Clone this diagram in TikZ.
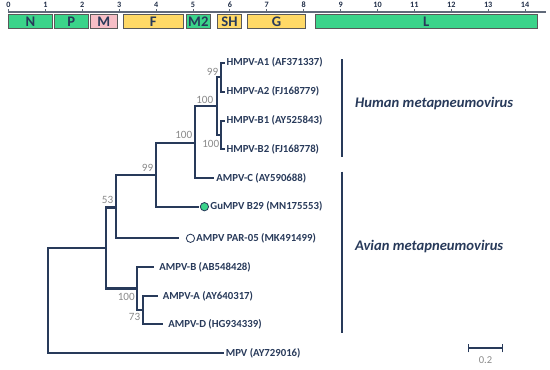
\documentclass[tikz,border=0pt]{standalone}
\usepackage{fontspec}
\setmainfont{Carlito}
\usepackage{xcolor}
\usetikzlibrary{positioning}
\definecolor{navy}{HTML}{283A5A}
\definecolor{bootgray}{HTML}{8A8A8A}
\definecolor{genegreen}{HTML}{3BD48A}
\definecolor{genepink}{HTML}{F6BEC6}
\definecolor{geneyellow}{HTML}{FFD966}

\begin{document}
\begin{tikzpicture}[x=0.03cm, y=-0.03cm,
      branch/.style={draw=navy, line width=1.8pt, line cap=rect},
      leaf/.style={font=\bfseries\fontsize{9.2}{10}\selectfont, text=navy, inner sep=0pt, anchor=west},
      boot/.style={font=\fontsize{9.5}{10}\selectfont, text=bootgray, inner sep=0pt},
      gene/.style={draw=black!65, line width=0.7pt, font=\bfseries\fontsize{12.5}{13}\selectfont, text=navy},
      clade/.style={font=\bfseries\itshape\fontsize{12.5}{14}\selectfont, text=navy, anchor=west, inner sep=0pt},
      dot/.style={circle, draw=navy, line width=0.7pt, minimum size=8.3*0.03cm, inner sep=0pt}]
    \useasboundingbox (0,0) rectangle (550,370);
    % genome map
    \draw[navy!70!black!70, line width=1.3pt] (8,12) -- (546,12);
    \foreach \k in {0,...,14} {
      \draw[navy!70!black!70, line width=0.7pt] (8.5+36.9*\k,12) -- (8.5+36.9*\k,9.5);
      \node[font=\bfseries\fontsize{7}{7}\selectfont, text=navy!80!black, inner sep=0pt] at (8.5+36.9*\k,4.8) {\k};
    }
    \foreach \a/\b/\g/\c in {8.7/52.3/N/genegreen, 54/88.3/P/genegreen, 90/117.3/M/genepink,
        123.3/183.3/F/geneyellow, 186/210.7/M2/genegreen, 217.3/241.7/SH/geneyellow,
        247.3/305.7/G/geneyellow, 315/537.3/L/genegreen} {
      \draw[gene, fill=\c] (\a,14) rectangle (\b,28);
      \node[gene, draw=none, inner sep=0pt] at ({(\a+\b)/2},21.3) {\g};
    }
    % internal nodes
    \coordinate (root) at (48.3,300.6);
    \coordinate (nAv)  at (105.7,248);
    \coordinate (n53)  at (115.7,207.5);
    \coordinate (nG)   at (156,175);
    \coordinate (nHC)  at (195,142.7);
    \coordinate (nH)   at (216.7,106);
    \coordinate (nA)   at (220.7,77);
    \coordinate (nB)   at (220.7,134.8);
    \coordinate (nBAD) at (137.3,288.5);
    \coordinate (nAD)  at (142.7,310.2);
    % leaf tips
    \coordinate (tA1)  at (224,62.7);
    \coordinate (tA2)  at (224,91.7);
    \coordinate (tB1)  at (224,120.7);
    \coordinate (tB2)  at (224,149);
    \coordinate (tC)   at (213.3,178.3);
    \coordinate (tGu)  at (198,206.7);
    \coordinate (tPar) at (178.3,238.3);
    \coordinate (tAB)  at (153.3,267.3);
    \coordinate (tAA)  at (156.7,296);
    \coordinate (tAD)  at (162.3,324.3);
    \coordinate (tMPV) at (222.7,353.3);
    % branches
    \draw[branch] (root) |- (nAv);  \draw[branch] (root) |- (tMPV);
    \draw[branch] (nAv) |- (n53);   \draw[branch] (nAv) |- (nBAD);
    \draw[branch] (n53) |- (nG);    \draw[branch] (n53) |- (tPar);
    \draw[branch] (nG) |- (nHC);    \draw[branch] (nG) |- (tGu);
    \draw[branch] (nHC) |- (nH);    \draw[branch] (nHC) |- (tC);
    \draw[branch] (nH) |- (nA);     \draw[branch] (nH) |- (nB);
    \draw[branch] (nA) |- (tA1);    \draw[branch] (nA) |- (tA2);
    \draw[branch] (nB) |- (tB1);    \draw[branch] (nB) |- (tB2);
    \draw[branch] (nBAD) |- (tAB);  \draw[branch] (nBAD) |- (nAD);
    \draw[branch] (nAD) |- (tAA);   \draw[branch] (nAD) |- (tAD);
    % leaf labels
    \node[leaf, right=2pt of tA1] (lA1) {HMPV-A1 (AF371337)};
    \node[leaf, right=2pt of tA2] (lA2) {HMPV-A2 (FJ168779)};
    \node[leaf, right=2pt of tB1] (lB1) {HMPV-B1 (AY525843)};
    \node[leaf, right=2pt of tB2] (lB2) {HMPV-B2 (FJ168778)};
    \node[leaf, right=2.5pt of tC] (lC) {AMPV-C (AY590688)};
    \node[dot, fill=genegreen, right=1.6pt of tGu] (dGu) {};
    \node[leaf, right=1pt of dGu] (lGu) {GuMPV B29 (MN175553)};
    \node[dot, fill=white, right=6.5pt of tPar] (dPar) {};
    \node[leaf, right=1pt of dPar] (lPar) {AMPV PAR-05 (MK491499)};
    \node[leaf, right=5pt of tAB] (lAB) {AMPV-B (AB548428)};
    \node[leaf, right=5pt of tAA] (lAA) {AMPV-A (AY640317)};
    \node[leaf, right=5pt of tAD] (lAD) {AMPV-D (HG934339)};
    \node[leaf, right=2.5pt of tMPV] (lMPV) {MPV (AY729016)};
    % bootstrap values
    \node[boot, anchor=east] at (218.5,72) {99};
    \node[boot, anchor=east] at (213.5,100) {100};
    \node[boot, anchor=east] at (219.5,144) {100};
    \node[boot, anchor=east] at (192.5,135) {100};
    \node[boot, anchor=east] at (153.5,168) {99};
    \node[boot, anchor=east] at (113.5,200) {53};
    \node[boot, anchor=east] at (135,297.3) {100};
    \node[boot, anchor=east] at (140.5,317.3) {73};
    % clades
    \coordinate (hTop) at (342.3,59.3);  \coordinate (hBot) at (342.3,156.7);
    \coordinate (aTop) at (342.3,171.7); \coordinate (aBot) at (342.3,332.7);
    \draw[branch, line cap=butt] (hTop) -- (hBot);
    \draw[branch, line cap=butt] (aTop) -- (aBot);
    \node[clade] (human) at (355,103.3) {Human metapneumovirus};
    \node[clade] (avian) at (355,246.7) {Avian metapneumovirus};
    % scale bar
    \coordinate (sL) at (468.3,348.3); \coordinate (sR) at (502.7,348.3);
    \draw[branch, line cap=butt] (sL) -- (sR);
    \draw[draw=navy, line width=1.3pt] ([yshift=-4.2*0.03cm]sL) -- ([yshift=4.2*0.03cm]sL)
      ([yshift=-4.2*0.03cm]sR) -- ([yshift=4.2*0.03cm]sR);
    \node[boot, font=\fontsize{9}{9}\selectfont] (sLab) at (485.5,360) {0.2};
  \end{tikzpicture}
\end{document}
